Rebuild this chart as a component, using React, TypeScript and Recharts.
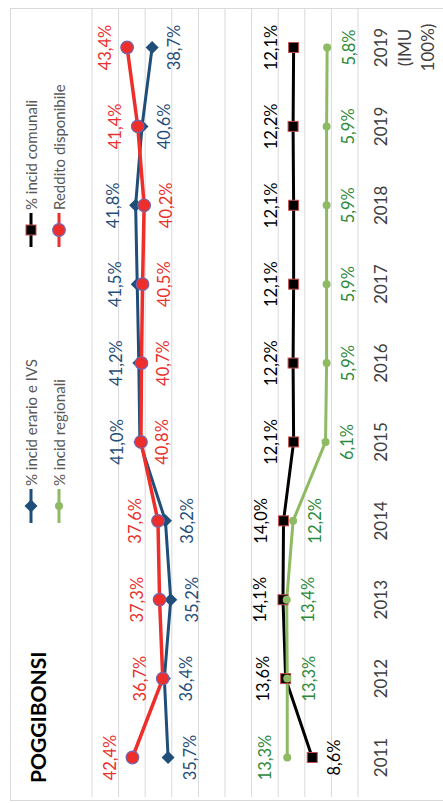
import React from "react";
import {
  CartesianGrid,
  ComposedChart,
  LabelList,
  Line,
  XAxis,
  YAxis,
} from "recharts";

const years = [
  "2011",
  "2012",
  "2013",
  "2014",
  "2015",
  "2016",
  "2017",
  "2018",
  "2019",
  "2019\n(IMU\n100%)",
];
const erario = [35.7, 36.4, 35.2, 36.2, 41.0, 41.2, 41.5, 41.8, 40.6, 38.7];
const regionali = [13.3, 13.3, 13.4, 12.2, 6.1, 5.9, 5.9, 5.9, 5.9, 5.8];
const comunali = [8.6, 13.6, 14.1, 14.0, 12.1, 12.2, 12.1, 12.1, 12.2, 12.1];
const reddito = [42.4, 36.7, 37.3, 37.6, 40.8, 40.7, 40.5, 40.2, 41.4, 43.4];
const valueTicks = [0, 5, 10, 15, 20, 25, 30, 35, 40, 45, 50];

const title = "POGGIBONSI";

const data = years.map((year, i) => ({
  year,
  erario: erario[i],
  regionali: regionali[i],
  comunali: comunali[i],
  reddito: reddito[i],
}));

type MarkerKind = "diamond" | "square" | "bigCircle" | "smallCircle";

const series = {
  erario: { label: "% incid erario e IVS", line: "#1F4E79", text: "#1F4E79", marker: "diamond" as MarkerKind },
  comunali: { label: "% incid comunali", line: "#000000", text: "#000000", marker: "square" as MarkerKind },
  regionali: { label: "% incid regionali", line: "#8DBA62", text: "#2B8A3A", marker: "smallCircle" as MarkerKind },
  reddito: { label: "Reddito disponibile", line: "#EE2E2A", text: "#E8302C", marker: "bigCircle" as MarkerKind },
};

const FONT = "Lato, 'Noto Sans', sans-serif";

function pct(v: number) {
  return v.toFixed(1).replace(".", ",") + "%";
}

function Marker({ kind, cx, cy, color }: { kind: MarkerKind; cx: number; cy: number; color: string }) {
  if (kind === "diamond") {
    const s = 6.5;
    return <polygon points={`${cx},${cy - s} ${cx + s},${cy} ${cx},${cy + s} ${cx - s},${cy}`} fill={color} />;
  }
  if (kind === "square") {
    return <rect x={cx - 5} y={cy - 5} width={10} height={10} fill="#000" stroke="#C0504D" strokeWidth={1} />;
  }
  if (kind === "bigCircle") {
    return <circle cx={cx} cy={cy} r={6.3} fill={color} stroke="#7466AE" strokeWidth={1.2} />;
  }
  return <circle cx={cx} cy={cy} r={4} fill={color} />;
}

// label goes above the point when the series is higher than its neighbour
function pointLabel(values: number[], other: number[], color: string) {
  return (props: any) => {
    const { x, y, index } = props;
    const v = values[index];
    const above = v >= other[index];
    return (
      <text
        x={x}
        y={above ? y - 16.5 : y + 27.5}
        textAnchor="middle"
        fill={color}
        fontSize={16.5}
        fontFamily={FONT}
      >
        {pct(v)}
      </text>
    );
  };
}

function YearTick({ x, y, payload }: any) {
  const lines = String(payload.value).split("\n");
  return (
    <text x={x} y={y} textAnchor="middle" fill="#404040" fontSize={17} fontFamily={FONT}>
      {lines.map((line, i) => (
        <tspan key={i} x={x} dy={i === 0 ? 21 : 23.5}>
          {line}
        </tspan>
      ))}
    </text>
  );
}

function LegendEntry({ kind, color, label, left, top }: any) {
  return (
    <div
      style={{
        position: "absolute",
        left,
        top: top - 9,
        height: 18,
        display: "flex",
        alignItems: "center",
        whiteSpace: "nowrap",
      }}
    >
      <svg width={36} height={18} style={{ display: "block" }}>
        <line x1={1} y1={9} x2={35} y2={9} stroke={color} strokeWidth={3} />
        <Marker kind={kind} cx={18} cy={9} color={color} />
      </svg>
      <span style={{ marginLeft: 2, fontSize: 15, color: "#595959", fontFamily: FONT }}>{label}</span>
    </div>
  );
}

const legendOrder = [
  [series.erario, series.comunali],
  [series.regionali, series.reddito],
];

export default function App() {
  const dotFor = (kind: MarkerKind, color: string) => (p: any) =>
    <Marker key={`${kind}-${p.index}`} kind={kind} cx={p.cx} cy={p.cy} color={color} />;

  return (
    <div
      style={{
        position: "absolute",
        left: 0,
        top: 0,
        width: 443,
        height: 803,
        overflow: "hidden",
        background: "#fff",
      }}
    >
      <div
        style={{
          position: "absolute",
          left: 0,
          top: 0,
          width: 803,
          height: 443,
          transformOrigin: "0 0",
          transform: "translateY(803px) rotate(-90deg)",
          fontFamily: FONT,
        }}
      >
        <div
          style={{
            position: "absolute",
            left: 2,
            top: 10,
            width: 793,
            height: 460,
            border: "1px solid #D9D9D9",
            boxSizing: "border-box",
          }}
        />
        <div
          style={{
            position: "absolute",
            left: 20,
            top: 26,
            fontSize: 21,
            lineHeight: "24px",
            fontWeight: 700,
            color: "#000",
            fontFamily: FONT,
          }}
        >
          {title}
        </div>
        {legendOrder.map((row, r) =>
          row.map((s, c) => (
            <LegendEntry
              key={s.label}
              kind={s.marker}
              color={s.line}
              label={s.label}
              left={[279, 555][c]}
              top={[31, 59][r]}
            />
          )),
        )}
        <div style={{ position: "absolute", left: 0, top: 0 }}>
          <ComposedChart
            width={803}
            height={443}
            data={data}
            margin={{ top: 92, right: 8, bottom: 45, left: 6 }}
          >
            <CartesianGrid vertical={false} stroke="#D9D9D9" />
            <XAxis
              dataKey="year"
              axisLine={false}
              tickLine={false}
              interval={0}
              height={40}
              padding={{ left: 39.5, right: 39.5 }}
              tick={<YearTick />}
            />
            <YAxis hide domain={[0, 50]} ticks={valueTicks} />
            <Line
              dataKey="erario"
              stroke={series.erario.line}
              strokeWidth={3}
              dot={dotFor("diamond", series.erario.line)}
              activeDot={false}
              isAnimationActive={false}
            >
              <LabelList dataKey="erario" content={pointLabel(erario, reddito, series.erario.text)} />
            </Line>
            <Line
              dataKey="comunali"
              stroke={series.comunali.line}
              strokeWidth={3}
              dot={dotFor("square", series.comunali.line)}
              activeDot={false}
              isAnimationActive={false}
            >
              <LabelList dataKey="comunali" content={pointLabel(comunali, regionali, series.comunali.text)} />
            </Line>
            <Line
              dataKey="regionali"
              stroke={series.regionali.line}
              strokeWidth={3}
              dot={dotFor("smallCircle", series.regionali.line)}
              activeDot={false}
              isAnimationActive={false}
            >
              <LabelList dataKey="regionali" content={pointLabel(regionali, comunali, series.regionali.text)} />
            </Line>
            <Line
              dataKey="reddito"
              stroke={series.reddito.line}
              strokeWidth={3.5}
              dot={dotFor("bigCircle", series.reddito.line)}
              activeDot={false}
              isAnimationActive={false}
            >
              <LabelList dataKey="reddito" content={pointLabel(reddito, erario, series.reddito.text)} />
            </Line>
          </ComposedChart>
        </div>
      </div>
    </div>
  );
}
